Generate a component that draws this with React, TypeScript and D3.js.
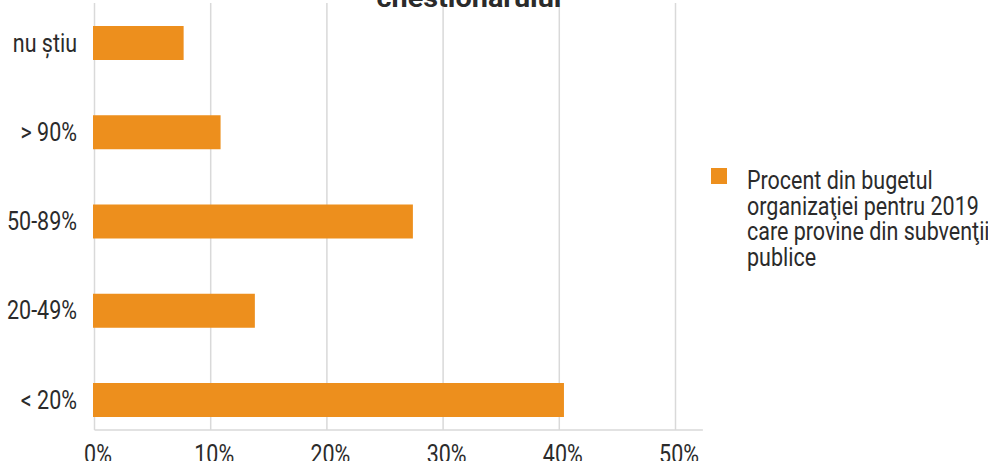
import React from "react";
import * as d3 from "d3";

const categories = ["nu știu", "> 90%", "50-89%", "20-49%", "< 20%"];
const values = [0.0767, 0.1085, 0.274, 0.138, 0.404];
const xTicks = [0, 0.1, 0.2, 0.3, 0.4, 0.5];
const legendLines = [
  "Procent din bugetul",
  "organizaţiei pentru 2019",
  "care provine din subvenţii",
  "publice",
];
const titleText = "chestionarului";

const W = 988;
const H = 461;
const ORANGE = "#ED8F1D";
const TEXT = "#2b2b2b";
const GRID = "#d9d9d9";
const FONT = "Roboto, 'Noto Sans', sans-serif";
const SX = 0.86;

export default function App() {
  const x = d3.scaleLinear().domain([0, 0.5]).range([94.5, 675.5]);
  const y = d3.scalePoint<string>().domain(categories).range([43, 400]);
  const barH = 34;
  const axisY = 430;
  const axisEnd = x(0.5236);
  const fmt = d3.format(".0%");

  return (
    <div style={{ position: "absolute", left: 0, top: 0, width: W, height: H, background: "#fff" }}>
      <svg width={W} height={H} style={{ display: "block" }}>
        <rect x={0} y={0} width={W} height={H} fill="#fff" />
        {/* gridlines */}
        {xTicks.map((t) => (
          <line key={t} x1={x(t)} x2={x(t)} y1={3} y2={axisY} stroke={GRID} strokeWidth={1.5} />
        ))}
        {/* axis line */}
        <line x1={x(0)} x2={axisEnd} y1={axisY} y2={axisY} stroke={GRID} strokeWidth={1.5} />
        {/* bars */}
        {categories.map((c, i) => (
          <rect
            key={c}
            x={x(0) - 1.5}
            y={(y(c) as number) - barH / 2}
            width={x(values[i]) - x(0) + 1.5}
            height={barH}
            fill={ORANGE}
          />
        ))}
        {/* category labels */}
        {categories.map((c) => (
          <text
            key={c}
            transform={`translate(77, ${(y(c) as number) + 8.7}) scale(${SX},1)`}
            textAnchor="end"
            fontFamily={FONT}
            fontSize={25}
            fill={TEXT}
          >
            {c}
          </text>
        ))}
        {/* x tick labels */}
        {xTicks.map((t) => (
          <text
            key={t}
            transform={`translate(${x(t) + 3.5}, 463) scale(${SX},1)`}
            textAnchor="middle"
            fontFamily={FONT}
            fontSize={25}
            fill={TEXT}
          >
            {fmt(t)}
          </text>
        ))}
        {/* title (cut off at top) */}
        <text
          x={469}
          y={7}
          textAnchor="middle"
          fontFamily={FONT}
          fontSize={26}
          fontWeight="bold"
          fill={TEXT}
          textLength={185}
          lengthAdjust="spacingAndGlyphs"
        >
          {titleText}
        </text>
        {/* legend */}
        <rect x={711} y={168} width={16} height={16} fill={ORANGE} />
        {legendLines.map((l, i) => (
          <text
            key={i}
            transform={`translate(747, ${189 + i * 25.7}) scale(${SX},1)`}
            fontFamily={FONT}
            fontSize={25}
            fill={TEXT}
          >
            {l}
          </text>
        ))}
      </svg>
    </div>
  );
}
